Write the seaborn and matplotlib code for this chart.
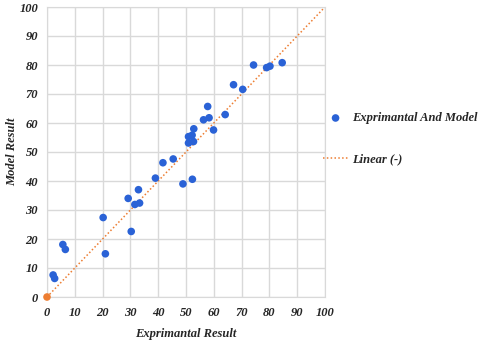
import matplotlib
matplotlib.use("Agg")
import matplotlib.pyplot as plt
import pandas as pd
import seaborn as sns

# Data
exp_result = [2.2, 2.75, 5.7, 6.6, 20.2, 21.0, 29.2, 30.3, 31.6, 32.9, 33.3, 39.0,
              41.7, 45.4, 48.9, 52.3, 50.9, 50.9, 52.2, 52.7, 52.8, 56.3, 57.8,
              58.3, 59.9, 64.1, 67.1, 70.4, 74.3, 79.0, 80.2, 84.6]
model_result = [7.6, 6.4, 18.1, 16.4, 27.4, 14.9, 34.0, 22.6, 31.9, 37.0, 32.4, 41.0,
                46.3, 47.6, 39.0, 40.6, 53.1, 55.3, 55.8, 53.6, 58.0, 61.1, 65.7,
                61.8, 57.6, 62.9, 73.2, 71.6, 80.0, 79.1, 79.6, 80.8]
linear_x = [0, 100]
linear_y = [0, 100]
ticks = [0, 10, 20, 30, 40, 50, 60, 70, 80, 90, 100]

blue = "#2A62D6"
orange = "#ED7D31"

df = pd.DataFrame({"exp": exp_result, "model": model_result})

sns.set_style("white")
plt.rcParams["font.family"] = ["Liberation Serif", "DejaVu Serif"]

fig = plt.figure(figsize=(4.8, 3.41), dpi=100)
ax = fig.add_axes([47 / 480, 44 / 341, 278 / 480, 290 / 341])

sns.lineplot(x=linear_x, y=linear_y, ax=ax, color=orange, linestyle=(0, (1, 1.5)),
             linewidth=1.1, label="Linear (-)", zorder=2)
sns.scatterplot(data=df, x="exp", y="model", ax=ax, color=blue, s=30,
                edgecolor="none", label="Exprimantal And Model", zorder=3)
ax.scatter([0], [0], color=orange, s=30, edgecolor="none", zorder=4, clip_on=False)

ax.set_xlim(0, 100)
ax.set_ylim(0, 100)
ax.set_xticks(ticks)
ax.set_yticks(ticks)
ax.grid(True, color="#D9D9D9", linewidth=1)
for s in ax.spines.values():
    s.set_color("#D9D9D9")
ax.tick_params(axis="x", length=0, labelsize=9, pad=7.5)
ax.tick_params(axis="y", length=0, labelsize=9, pad=6.5)
for lbl in ax.get_xticklabels() + ax.get_yticklabels():
    lbl.set_fontweight("bold")
    lbl.set_fontstyle("italic")

ax.set_xlabel("Exprimantal Result", fontsize=9, fontweight="bold", style="italic",
              labelpad=6)
ax.set_ylabel("Model Result", fontsize=9, fontweight="bold", style="italic",
              labelpad=1)

handles, labels = ax.get_legend_handles_labels()
order = [1, 0]
leg = ax.legend([handles[i] for i in order], [labels[i] for i in order],
                loc="center left", bbox_to_anchor=(0.993, 0.545), frameon=False,
                borderaxespad=0, borderpad=0,
                labelspacing=2.35, handlelength=2.0, handletextpad=0.3,
                prop={"size": 9, "weight": "bold", "style": "italic"})

fig.savefig("out.png", dpi=100)
